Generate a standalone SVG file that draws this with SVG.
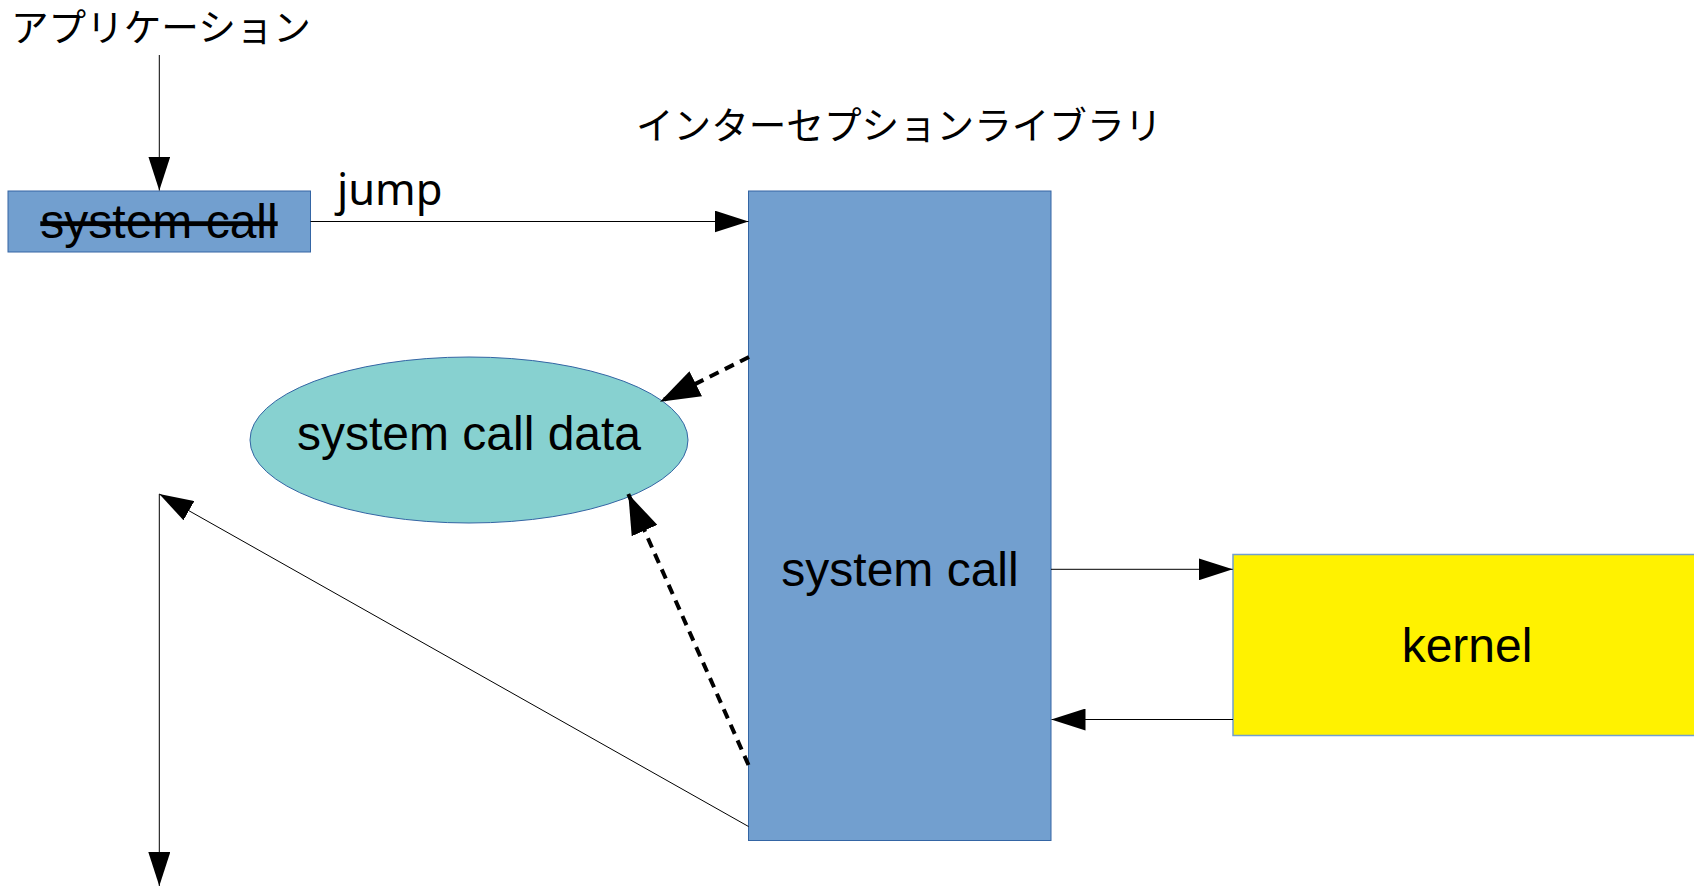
<svg xmlns="http://www.w3.org/2000/svg" width="1694" height="888" viewBox="0 0 1694 888">
<style>
.lbl{font-family:"Liberation Sans",Arial,sans-serif;font-size:48px;fill:#000}
.jp{font-family:"Noto Sans CJK JP","Noto Sans",sans-serif;font-size:37.6px;fill:#000}
.blue{fill:#729fcf;stroke:#3465a4;stroke-width:1}
.conn{fill:none;stroke:#000;stroke-width:1}
.dash{fill:none;stroke:#000;stroke-width:4;stroke-dasharray:10 7}
</style>
<defs>
<marker id="ah" markerUnits="userSpaceOnUse" markerWidth="34" markerHeight="22" refX="34" refY="11" orient="auto" viewBox="0 0 34 22">
<path d="M0,0 L34,11 L0,22 z" fill="#000"/>
</marker>
<marker id="ahb" markerUnits="userSpaceOnUse" markerWidth="40" markerHeight="28" refX="40" refY="14" orient="auto" viewBox="0 0 40 28">
<path d="M0,0 L40,14 L0,28 z" fill="#000"/>
</marker>
</defs>
<rect width="1694" height="888" fill="#fff"/>

<g id="app-label">
<text class="jp" x="11" y="41">アプリケーション</text>
</g>
<g id="lib-label">
<text class="jp" x="636" y="139">インターセプションライブラリ</text>
</g>

<g id="syscall-app">
<rect class="blue" x="8" y="191" width="302.5" height="61"/>
<text class="lbl" x="159" y="238" text-anchor="middle" style="text-decoration:line-through">system call</text>
</g>

<g id="syscall-lib">
<rect class="blue" x="748.5" y="191" width="302.5" height="649.5"/>
<text class="lbl" x="900" y="586" text-anchor="middle">system call</text>
</g>

<g id="data">
<ellipse cx="469" cy="440" rx="219" ry="83" fill="#87d1d0" stroke="#3465a4" stroke-width="1"/>
<text class="lbl" x="469" y="450" text-anchor="middle">system call data</text>
</g>

<g id="kernel">
<rect x="1233" y="554.5" width="480" height="181" fill="#fff200" stroke="#729fcf" stroke-width="1.5"/>
<text class="lbl" x="1467" y="662" text-anchor="middle">kernel</text>
</g>

<g id="connectors">
<line class="conn" x1="159.3" y1="55" x2="159.3" y2="190.5" marker-end="url(#ah)"/>
<line class="conn" x1="310.5" y1="221.5" x2="748.5" y2="221.5" marker-end="url(#ah)"/>
<text x="337" y="205" style="font-family:'Noto Sans','Open Sans',sans-serif;font-size:43.5px;fill:#000">jump</text>
<line class="dash" x1="749" y1="357" x2="660" y2="401.7" marker-end="url(#ahb)"/>
<line class="dash" x1="748.5" y1="765" x2="628.3" y2="494" marker-end="url(#ahb)"/>
<line class="conn" x1="748.5" y1="826.5" x2="159.3" y2="494" marker-end="url(#ah)"/>
<line class="conn" x1="159.3" y1="494" x2="159.3" y2="886" marker-end="url(#ah)"/>
<line class="conn" x1="1051" y1="569.3" x2="1232.7" y2="569.3" marker-end="url(#ah)"/>
<line class="conn" x1="1233" y1="719.5" x2="1051.5" y2="719.5" marker-end="url(#ah)"/>
</g>
</svg>
